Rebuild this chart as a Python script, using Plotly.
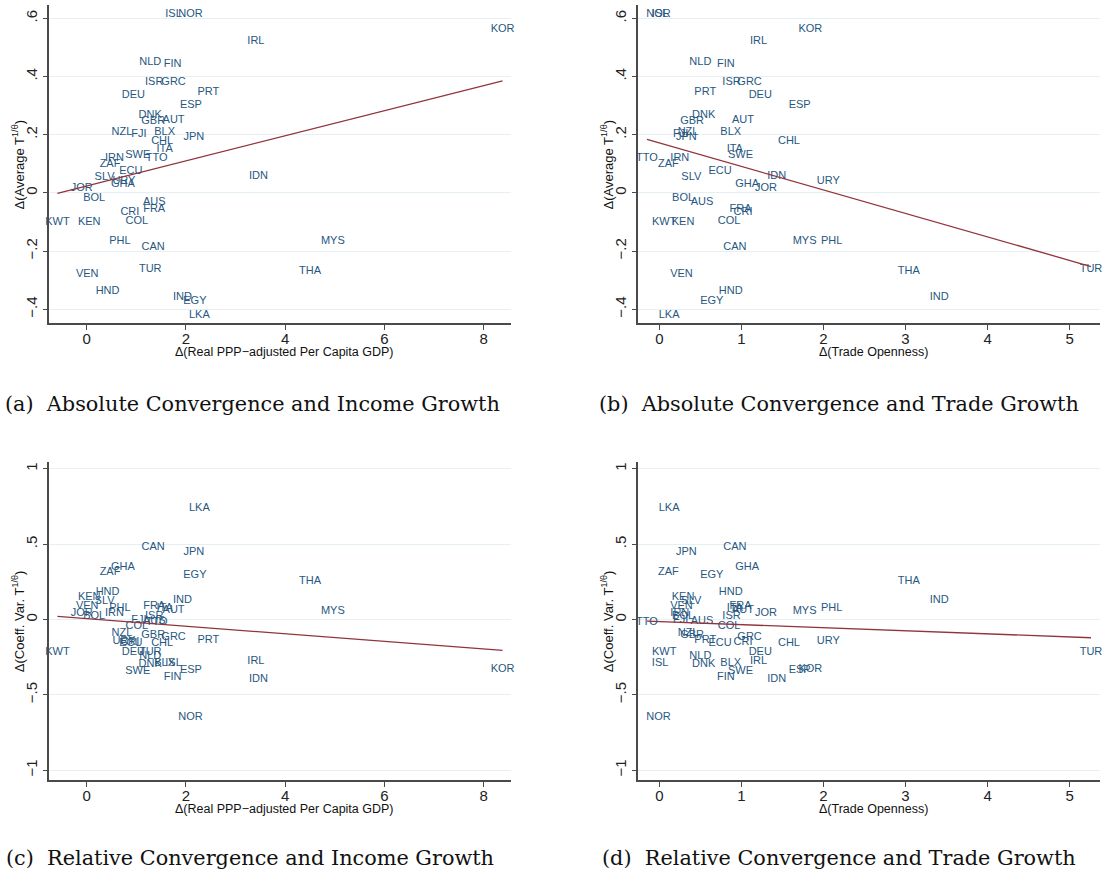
import numpy as np
import plotly.graph_objects as go

# Country codes (one label per country in every panel)
countries = ["ISL", "NOR", "IRL", "KOR", "NLD", "FIN", "ISR", "GRC", "DEU", "PRT",
             "ESP", "DNK", "GBR", "AUT", "NZL", "FJI", "BLX", "JPN", "CHL", "ITA",
             "SWE", "TTO", "IRN", "ZAF", "ECU", "IDN", "SLV", "URY", "GHA", "JOR",
             "BOL", "AUS", "FRA", "CRI", "COL", "KWT", "KEN", "PHL", "CAN", "TUR",
             "VEN", "HND", "IND", "EGY", "LKA", "MYS", "THA"]

# Δ(Real PPP-adjusted per capita GDP)
gdp_growth = [1.75, 2.09, 3.41, 8.38, 1.28, 1.73, 1.36, 1.75, 0.94, 2.45,
              2.10, 1.28, 1.34, 1.75, 0.71, 1.05, 1.57, 2.16, 1.52, 1.57,
              1.03, 1.41, 0.56, 0.47, 0.89, 3.46, 0.36, 0.75, 0.73, -0.10,
              0.15, 1.36, 1.36, 0.87, 1.01, -0.59, 0.05, 0.67, 1.34, 1.28,
              0.01, 0.42, 1.93, 2.18, 2.27, 4.96, 4.50]

# Δ(Trade openness)
trade_growth = [0.01, -0.01, 1.21, 1.84, 0.50, 0.81, 0.88, 1.10, 1.23, 0.56,
                1.71, 0.54, 0.40, 1.02, 0.35, 0.26, 0.87, 0.33, 1.58, 0.92,
                0.99, -0.15, 0.25, 0.11, 0.74, 1.43, 0.39, 2.06, 1.07, 1.30,
                0.29, 0.52, 0.99, 1.02, 0.85, 0.06, 0.29, 2.10, 0.92, 5.26,
                0.27, 0.87, 3.41, 0.64, 0.12, 1.77, 3.04]

# Δ(Average T^(1/θ))
avg_change = [0.615, 0.615, 0.522, 0.562, 0.448, 0.444, 0.382, 0.382, 0.336, 0.347,
              0.301, 0.268, 0.245, 0.251, 0.208, 0.201, 0.210, 0.193, 0.179, 0.151,
              0.131, 0.120, 0.118, 0.099, 0.075, 0.056, 0.054, 0.041, 0.029, 0.016,
              -0.018, -0.033, -0.056, -0.068, -0.096, -0.101, -0.101, -0.167, -0.187, -0.261,
              -0.279, -0.337, -0.358, -0.371, -0.419, -0.165, -0.270]

# Δ(Coeff. of variation of T^(1/θ))
cv_change = [-0.288, -0.650, -0.275, -0.330, -0.243, -0.380, 0.024, -0.117, -0.215, -0.135,
             -0.335, -0.300, -0.104, 0.062, -0.090, -0.005, -0.293, 0.447, -0.160, 0.072,
             -0.342, -0.018, 0.044, 0.314, -0.158, -0.393, 0.119, -0.143, 0.347, 0.042,
             0.022, -0.010, 0.088, -0.150, -0.045, -0.216, 0.150, 0.078, 0.480, -0.216,
             0.091, 0.182, 0.128, 0.294, 0.739, 0.058, 0.257]

W, H = 1107, 876
LABEL_COLOR = "#27577f"
FIT_COLOR = "#90353b"
AXIS_COLOR = "#4a4a4a"
GRID_COLOR = "#e6eff1"
SANS = "Liberation Sans, Arial, sans-serif"
SERIF = "DejaVu Serif, Liberation Serif, serif"


def px_x(p):
    return p / W


def px_y(p):
    return 1 - p / H


# Plot regions in pixels: (left, right, top, bottom)
regions = {
    1: (49.3, 511.0, 5.0, 323.3),
    2: (638.3, 1100.0, 5.0, 323.3),
    3: (49.3, 511.0, 461.7, 780.0),
    4: (638.3, 1100.0, 461.7, 780.0),
}

panels = [
    # (axis index, x data, y data)
    (1, gdp_growth, avg_change),
    (2, trade_growth, avg_change),
    (3, gdp_growth, cv_change),
    (4, trade_growth, cv_change),
]

fig = go.Figure()

for idx, xs, ys in panels:
    xname = "x" if idx == 1 else f"x{idx}"
    yname = "y" if idx == 1 else f"y{idx}"
    xs_arr = np.array(xs)
    ys_arr = np.array(ys)
    fig.add_trace(go.Scatter(
        x=xs, y=ys, text=countries, mode="text",
        textposition="middle center", cliponaxis=False,
        textfont=dict(family=SANS, size=11, color=LABEL_COLOR),
        xaxis=xname, yaxis=yname, showlegend=False, hoverinfo="text",
    ))
    # least-squares fit over the observed x range
    slope, intercept = np.polyfit(xs_arr, ys_arr, 1)
    fx = np.array([xs_arr.min(), xs_arr.max()])
    fig.add_trace(go.Scatter(
        x=fx, y=intercept + slope * fx, mode="lines",
        line=dict(color=FIT_COLOR, width=1.3),
        xaxis=xname, yaxis=yname, showlegend=False, hoverinfo="skip",
    ))

x_income = dict(range=[-0.754, 8.55], tickvals=[0, 2, 4, 6, 8])
x_trade = dict(range=[-0.256, 5.37], tickvals=[0, 1, 2, 3, 4, 5])
y_avg = dict(range=[-0.448, 0.646], tickvals=[-0.4, -0.2, 0, 0.2, 0.4, 0.6],
             ticktext=["\u2212.4", "\u2212.2", "0", ".2", ".4", ".6"])
y_cv = dict(range=[-1.065, 1.048], tickvals=[-1, -0.5, 0, 0.5, 1],
            ticktext=["\u22121", "\u2212.5", "0", ".5", "1"])

common = dict(showline=True, linecolor=AXIS_COLOR, linewidth=1.6,
              ticks="outside", ticklen=5, tickwidth=1.3, tickcolor=AXIS_COLOR,
              zeroline=False, tickfont=dict(family=SANS, size=15, color="#222222"))

axis_specs = {1: (x_income, y_avg), 2: (x_trade, y_avg),
              3: (x_income, y_cv), 4: (x_trade, y_cv)}

layout_axes = {}
for idx, (xa, ya) in axis_specs.items():
    l, r, t, b = regions[idx]
    xkey = "xaxis" if idx == 1 else f"xaxis{idx}"
    ykey = "yaxis" if idx == 1 else f"yaxis{idx}"
    anchor_x = "y" if idx == 1 else f"y{idx}"
    anchor_y = "x" if idx == 1 else f"x{idx}"
    layout_axes[xkey] = dict(domain=[px_x(l), px_x(r)], anchor=anchor_x,
                             showgrid=False, ticklabelstandoff=-4, **xa, **common)
    layout_axes[ykey] = dict(domain=[px_y(b), px_y(t)], anchor=anchor_y,
                             showgrid=True, gridcolor=GRID_COLOR, gridwidth=1,
                             tickangle=-90, **ya, **common)

annotations = []
x_titles = {1: "\u0394(Real PPP\u2212adjusted Per Capita GDP)", 2: "\u0394(Trade Openness)",
            3: "\u0394(Real PPP\u2212adjusted Per Capita GDP)", 4: "\u0394(Trade Openness)"}
y_titles = {1: "\u0394(Average T<sup>1/\u03b8</sup>)", 2: "\u0394(Average T<sup>1/\u03b8</sup>)",
            3: "\u0394(Coeff. Var. T<sup>1/\u03b8</sup>)", 4: "\u0394(Coeff. Var. T<sup>1/\u03b8</sup>)"}
captions = {1: "(a)  Absolute Convergence and Income Growth",
            2: "(b)  Absolute Convergence and Trade Growth",
            3: "(c)  Relative Convergence and Income Growth",
            4: "(d)  Relative Convergence and Trade Growth"}
caption_pos = {1: (252, 404), 2: (839, 404), 3: (250, 858), 4: (839, 858)}

for idx in range(1, 5):
    l, r, t, b = regions[idx]
    annotations.append(dict(
        text=x_titles[idx], x=px_x((l + r) / 2 + 4), y=px_y(b + 29),
        xref="paper", yref="paper", showarrow=False, xanchor="center", yanchor="middle",
        font=dict(family=SANS, size=12.5, color="#111111")))
    annotations.append(dict(
        text=y_titles[idx], x=px_x(l - 31), y=px_y((t + b) / 2), textangle=-90,
        xref="paper", yref="paper", showarrow=False, xanchor="center", yanchor="middle",
        font=dict(family=SANS, size=13, color="#111111")))
    cx, cy = caption_pos[idx]
    annotations.append(dict(
        text=captions[idx], x=px_x(cx), y=px_y(cy),
        xref="paper", yref="paper", showarrow=False, xanchor="center", yanchor="middle",
        font=dict(family=SERIF, size=20.8, color="#111111")))

fig.update_layout(
    width=W, height=H,
    margin=dict(l=0, r=0, t=0, b=0),
    paper_bgcolor="white", plot_bgcolor="white",
    annotations=annotations,
    **layout_axes,
)

fig.write_html("out.html")
